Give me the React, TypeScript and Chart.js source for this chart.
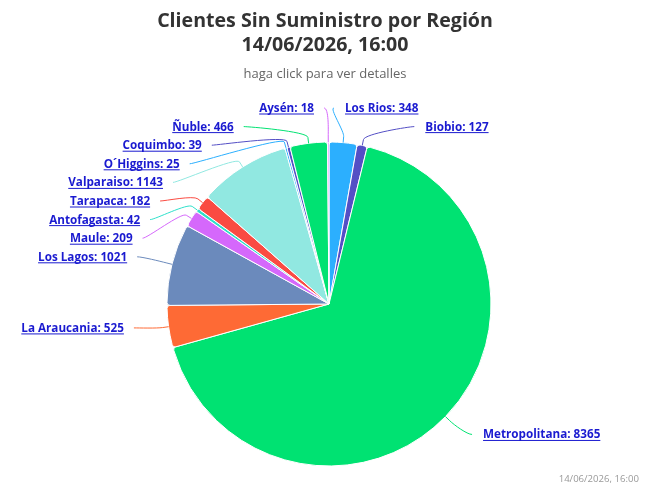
import React, { useEffect, useRef } from "react";
import { Chart, registerables } from "chart.js";

Chart.register(...registerables);

// ---- data ----
const regions = [
  "Los Rios",
  "Biobio",
  "Metropolitana",
  "La Araucania",
  "Los Lagos",
  "Maule",
  "Antofagasta",
  "Tarapaca",
  "Valparaiso",
  "O´Higgins",
  "Coquimbo",
  "Ñuble",
  "Aysén",
];
const clients = [348, 127, 8365, 525, 1021, 209, 42, 182, 1143, 25, 39, 466, 18];
const sliceColors = [
  "#2caffe",
  "#544fc5",
  "#00e272",
  "#fe6a35",
  "#6b8abc",
  "#d568fb",
  "#2ee0ca",
  "#fa4b42",
  "#91e8e1",
  "#2caffe",
  "#544fc5",
  "#00e272",
  "#d568fb",
];
const titleLines = ["Clientes Sin Suministro por Región", "14/06/2026, 16:00"];
const subtitleText = "haga click para ver detalles";
const creditText = "14/06/2026, 16:00";

const FONT = '"Open Sans", "Noto Sans", "DejaVu Sans", sans-serif';
const LINK = "#1a1ad0";

type Item = { i: number; mid: number; left: boolean; target: number; yc: number };

const pieLabels = {
  id: "pieLabels",
  afterDatasetsDraw(chart: any) {
    const ctx: CanvasRenderingContext2D = chart.ctx;
    const arcs: any[] = chart.getDatasetMeta(0).data;
    if (!arcs.length) return;
    const cx = arcs[0].x;
    const cy = arcs[0].y;
    const r = arcs[0].outerRadius;
    const R = r + 30;
    const h = 18.6;
    const minC = 108;
    const maxC = 478;

    const items: Item[] = arcs.map((a: any, i: number) => {
      const mid = (a.startAngle + a.endAngle) / 2;
      return { i, mid, left: Math.cos(mid) < 0, target: cy + Math.sin(mid) * R - 3, yc: 0 };
    });

    for (const side of [true, false]) {
      const list = items.filter((it) => it.left === side).sort((a, b) => a.target - b.target);
      type G = { members: Item[]; target: number; top: number };
      const place = (g: G) => {
        const size = g.members.length * h;
        let top = g.target - size / 2;
        top = Math.min(top, maxC + h / 2 - size);
        top = Math.max(top, minC - h / 2);
        g.top = top;
      };
      const groups: G[] = list.map((it) => ({ members: [it], target: it.target, top: 0 }));
      groups.forEach(place);
      let changed = true;
      while (changed) {
        changed = false;
        for (let k = 0; k < groups.length - 1; k++) {
          const a = groups[k];
          const b = groups[k + 1];
          if (a.top + a.members.length * h > b.top + 0.01) {
            const members = a.members.concat(b.members);
            const g: G = {
              members,
              target: members.reduce((s, m) => s + m.target, 0) / members.length,
              top: 0,
            };
            place(g);
            groups.splice(k, 2, g);
            changed = true;
            break;
          }
        }
      }
      groups.forEach((g) => g.members.forEach((m, k) => (m.yc = g.top + h * (k + 0.5))));
    }

    ctx.save();
    for (const it of items) {
      const sgn = it.left ? -1 : 1;
      const s = Math.max(-1, Math.min(1, (it.yc + 3 - cy) / R));
      const x = cx + sgn * (Math.cos(Math.asin(s)) * R + 5);
      const tx = cx + Math.cos(it.mid) * r;
      const ty = cy + Math.sin(it.mid) * r;
      const bx = cx + Math.cos(it.mid) * (r + 6);
      const by = cy + Math.sin(it.mid) * (r + 6);
      ctx.beginPath();
      ctx.moveTo(x, it.yc);
      ctx.bezierCurveTo(x - sgn * 5, it.yc, 2 * bx - tx, 2 * by - ty, bx, by);
      ctx.lineTo(tx, ty);
      ctx.strokeStyle = sliceColors[it.i];
      ctx.lineWidth = 1;
      ctx.stroke();

      ctx.font = `bold 11.7px ${FONT}`;
      ctx.textAlign = "left";
      ctx.textBaseline = "alphabetic";
      const text = `${regions[it.i]}: ${clients[it.i]}`;
      const w = ctx.measureText(text).width;
      const textX = it.left ? x - 10 - w : x + 11;
      const base = it.yc + 4;
      ctx.fillStyle = LINK;
      ctx.fillText(text, textX, base);
      ctx.fillRect(textX, base + 1.5, w, 1);
    }
    ctx.restore();
  },
  afterDraw(chart: any) {
    const ctx: CanvasRenderingContext2D = chart.ctx;
    const W = chart.width;
    ctx.save();
    ctx.textAlign = "center";
    ctx.textBaseline = "alphabetic";
    ctx.fillStyle = "#333333";
    ctx.font = `bold 19.6px ${FONT}`;
    ctx.fillText(titleLines[0], W / 2, 27);
    ctx.fillText(titleLines[1], W / 2, 50.5);
    ctx.fillStyle = "#666666";
    ctx.font = `13px ${FONT}`;
    ctx.fillText(subtitleText, W / 2, 78);
    ctx.textAlign = "right";
    ctx.fillStyle = "#999999";
    ctx.font = `9.6px ${FONT}`;
    ctx.fillText(creditText, 639, 482);
    ctx.restore();
  },
};

export default function App() {
  const ref = useRef<HTMLCanvasElement | null>(null);
  useEffect(() => {
    document.body.style.margin = "0";
    const canvas = ref.current;
    if (!canvas) return;
    const chart = new Chart(canvas, {
      type: "pie",
      data: {
        labels: regions,
        datasets: [
          {
            data: clients,
            backgroundColor: sliceColors,
            borderColor: "#ffffff",
            borderWidth: 1,
            borderRadius: 3,
          },
        ],
      },
      options: {
        responsive: false,
        animation: false,
        layout: { padding: { top: 141.5, bottom: 20.5, left: 8, right: 0 } },
        plugins: {
          legend: { display: false },
          tooltip: { enabled: false },
          title: { display: false },
        },
      },
      plugins: [pieLabels as any],
    });
    return () => chart.destroy();
  }, []);
  return (
    <div style={{ position: "absolute", left: 0, top: 0, width: 650, height: 487, background: "#fff" }}>
      <canvas ref={ref} width={650} height={487} style={{ width: 650, height: 487 }} />
    </div>
  );
}
